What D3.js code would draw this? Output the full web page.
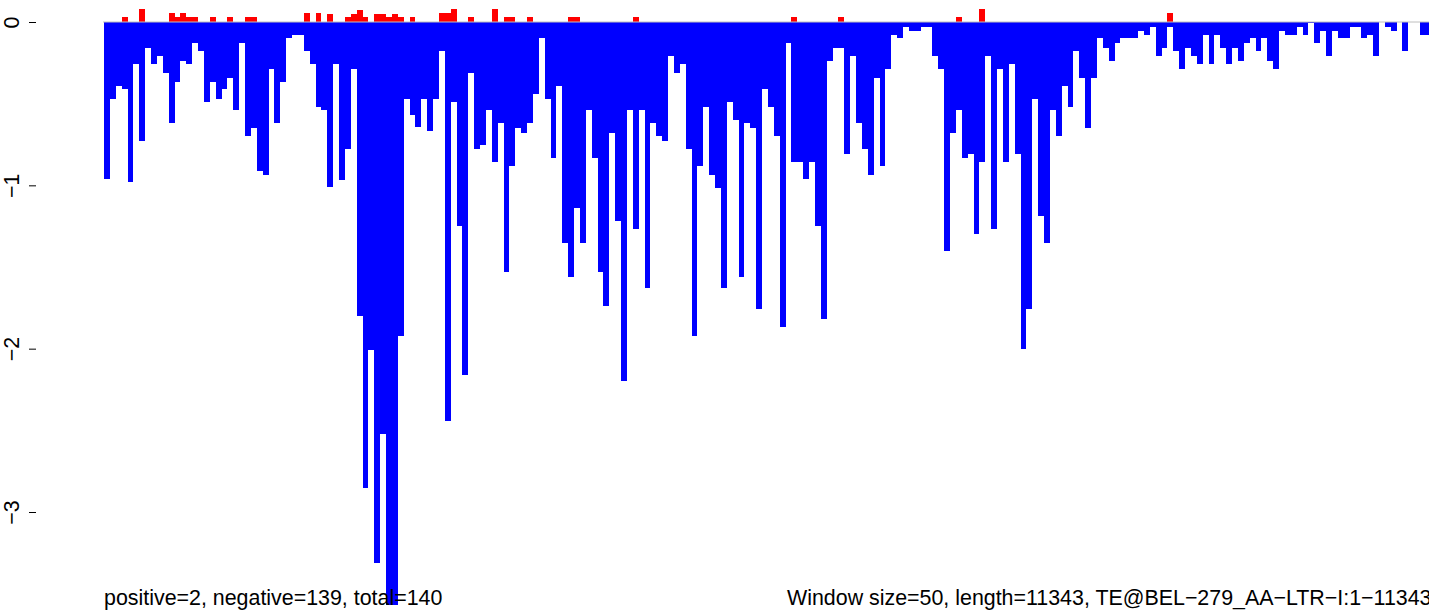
<!DOCTYPE html>
<html>
<head>
<meta charset="utf-8">
<script src="https://cdn.jsdelivr.net/npm/d3@7"></script>
<style>
  html, body { margin: 0; padding: 0; background: #fff; overflow: hidden; }
  svg { display: block; font-family: "Liberation Sans", Arial, Helvetica, sans-serif; }
</style>
</head>
<body>
<div id="chart"></div>
<script>
// window scores along the element, one per 50bp window
const negValues = [
  -0.96, -0.47, -0.39, -0.41, -0.98, -0.26, -0.73, -0.16, -0.26, -0.21,
  -0.31, -0.62, -0.37, -0.24, -0.26, -0.13, -0.18, -0.49, -0.37, -0.47,
  -0.41, -0.34, -0.54, -0.13, -0.70, -0.65, -0.91, -0.935, -0.29, -0.62,
  -0.37, -0.10, -0.078, -0.078, -0.18, -0.26, -0.52, -0.54, -1.01, -0.26,
  -0.97, -0.78, -0.29, -1.80, -2.85, -2.01, -3.31, -2.52, -3.57, -3.57,
  -1.92, -0.47, -0.57, -0.64, -0.47, -0.67, -0.47, -0.18, -2.44, -0.49,
  -1.25, -2.16, -0.31, -0.78, -0.75, -0.54, -0.86, -0.62, -1.53, -0.88,
  -0.65, -0.68, -0.62, -0.44, -0.10, -0.47, -0.83, -0.39, -1.35, -1.56,
  -1.14, -1.35, -0.54, -0.83, -1.53, -1.74, -0.68, -1.22, -2.20, -0.54,
  -1.27, -0.54, -1.63, -0.62, -0.70, -0.73, -0.21, -0.31, -0.26, -0.78,
  -1.92, -0.88, -0.52, -0.935, -1.015, -1.63, -0.49, -0.60, -1.56, -0.62,
  -0.65, -1.76, -0.41, -0.52, -0.70, -1.865, -0.13, -0.86, -0.86, -0.96,
  -0.86, -1.25, -1.82, -0.24, -0.16, -0.16, -0.81, -0.21, -0.62, -0.78,
  -0.935, -0.34, -0.88, -0.29, -0.078, -0.10, -0.03, -0.055, -0.055, -0.03,
  -0.03, -0.21, -0.29, -1.40, -0.68, -0.54, -0.83, -0.81, -1.30, -0.86,
  -0.21, -1.27, -0.29, -0.86, -0.26, -0.81, -2.00, -1.76, -0.47, -1.19,
  -1.35, -0.54, -0.70, -0.39, -0.52, -0.18, -0.34, -0.65, -0.34, -0.10,
  -0.16, -0.24, -0.13, -0.10, -0.10, -0.10, -0.055, -0.078, -0.03, -0.21,
  -0.16, -0.03, -0.18, -0.29, -0.16, -0.21, -0.26, -0.078, -0.26, -0.078,
  -0.16, -0.26, -0.16, -0.24, -0.13, -0.10, -0.18, -0.10, -0.24, -0.29,
  -0.055, -0.078, -0.078, -0.03, -0.078, -0.005, -0.13, -0.055, -0.21, -0.055,
  -0.10, -0.10, -0.03, -0.03, -0.10, -0.078, -0.21, 0, -0.03, -0.055,
  0, -0.18, 0, 0, -0.078, -0.078
];

// windows with a positive score, and that score
const posWindows = [3, 6, 11, 12, 13, 14, 15, 18, 21, 24, 25, 34, 36, 38, 41, 42, 43, 44, 46, 47,
  48, 49, 50, 52, 57, 58, 59, 62, 66, 68, 69, 72, 79, 80, 90, 117, 125, 145, 149, 181];
const posValues = [0.03, 0.08, 0.055, 0.03, 0.055, 0.03, 0.03, 0.03, 0.03, 0.03, 0.03, 0.055, 0.055, 0.05, 0.028, 0.05, 0.075, 0.028, 0.05, 0.05,
  0.028, 0.05, 0.028, 0.028, 0.055, 0.055, 0.08, 0.03, 0.08, 0.03, 0.03, 0.03, 0.03, 0.03, 0.03, 0.03, 0.03, 0.03, 0.08, 0.055];

const yTicks = [0, -1, -2, -3];
const leftNote = "positive=2, negative=139, total=140";
const rightNote = "Window size=50, length=11343, TE@BEL\u2212279_AA\u2212LTR\u2212I:1\u221211343";

const width = 1429, height = 613;
const plotLeft = 104, barW = 5.875;
const fontSize = 21.4;

const svg = d3.select("#chart").append("svg")
  .attr("width", width)
  .attr("height", height);

const xScale = d3.scaleBand()
  .domain(d3.range(negValues.length))
  .range([plotLeft, plotLeft + barW * negValues.length])
  .padding(0);

const yScale = d3.scaleLinear()
  .domain([-3, 0])
  .range([512, 22]);

const bars = svg.append("g").attr("shape-rendering", "crispEdges");

bars.selectAll(".neg")
  .data(negValues.map((v, i) => ({ i, v })).filter(d => d.v < 0))
  .enter().append("rect")
  .attr("class", "neg")
  .attr("x", d => xScale(d.i))
  .attr("y", yScale(0))
  .attr("width", xScale.bandwidth())
  .attr("height", d => yScale(d.v) - yScale(0))
  .attr("fill", "#0000ff");

bars.selectAll(".pos")
  .data(posWindows.map((w, k) => ({ i: w, v: posValues[k] })))
  .enter().append("rect")
  .attr("class", "pos")
  .attr("x", d => xScale(d.i))
  .attr("y", d => yScale(d.v))
  .attr("width", xScale.bandwidth())
  .attr("height", d => yScale(0) - yScale(d.v))
  .attr("fill", "#ff0000");

// zero line
svg.append("line")
  .attr("x1", plotLeft - 1)
  .attr("x2", width)
  .attr("y1", yScale(0))
  .attr("y2", yScale(0))
  .attr("stroke", "#bebebe")
  .attr("stroke-width", 1);

// y axis, labels parallel to the axis like R's default
const yAxis = svg.append("g")
  .attr("transform", "translate(36,0)")
  .call(d3.axisLeft(yScale)
    .tickValues(yTicks)
    .tickSize(7)
    .tickFormat(d => d === 0 ? "0" : "\u2212" + Math.abs(d)));

yAxis.select(".domain").remove();
yAxis.selectAll(".tick line").attr("stroke", "#000");
yAxis.selectAll(".tick text")
  .attr("x", null)
  .attr("dy", null)
  .attr("text-anchor", "middle")
  .attr("transform", "translate(-17,0) rotate(-90)")
  .attr("font-size", fontSize)
  .attr("fill", "#000");

svg.append("text")
  .attr("x", plotLeft)
  .attr("y", 605)
  .attr("font-size", fontSize)
  .text(leftNote);

svg.append("text")
  .attr("x", 787)
  .attr("y", 605)
  .attr("font-size", fontSize)
  .text(rightNote);
</script>
</body>
</html>
